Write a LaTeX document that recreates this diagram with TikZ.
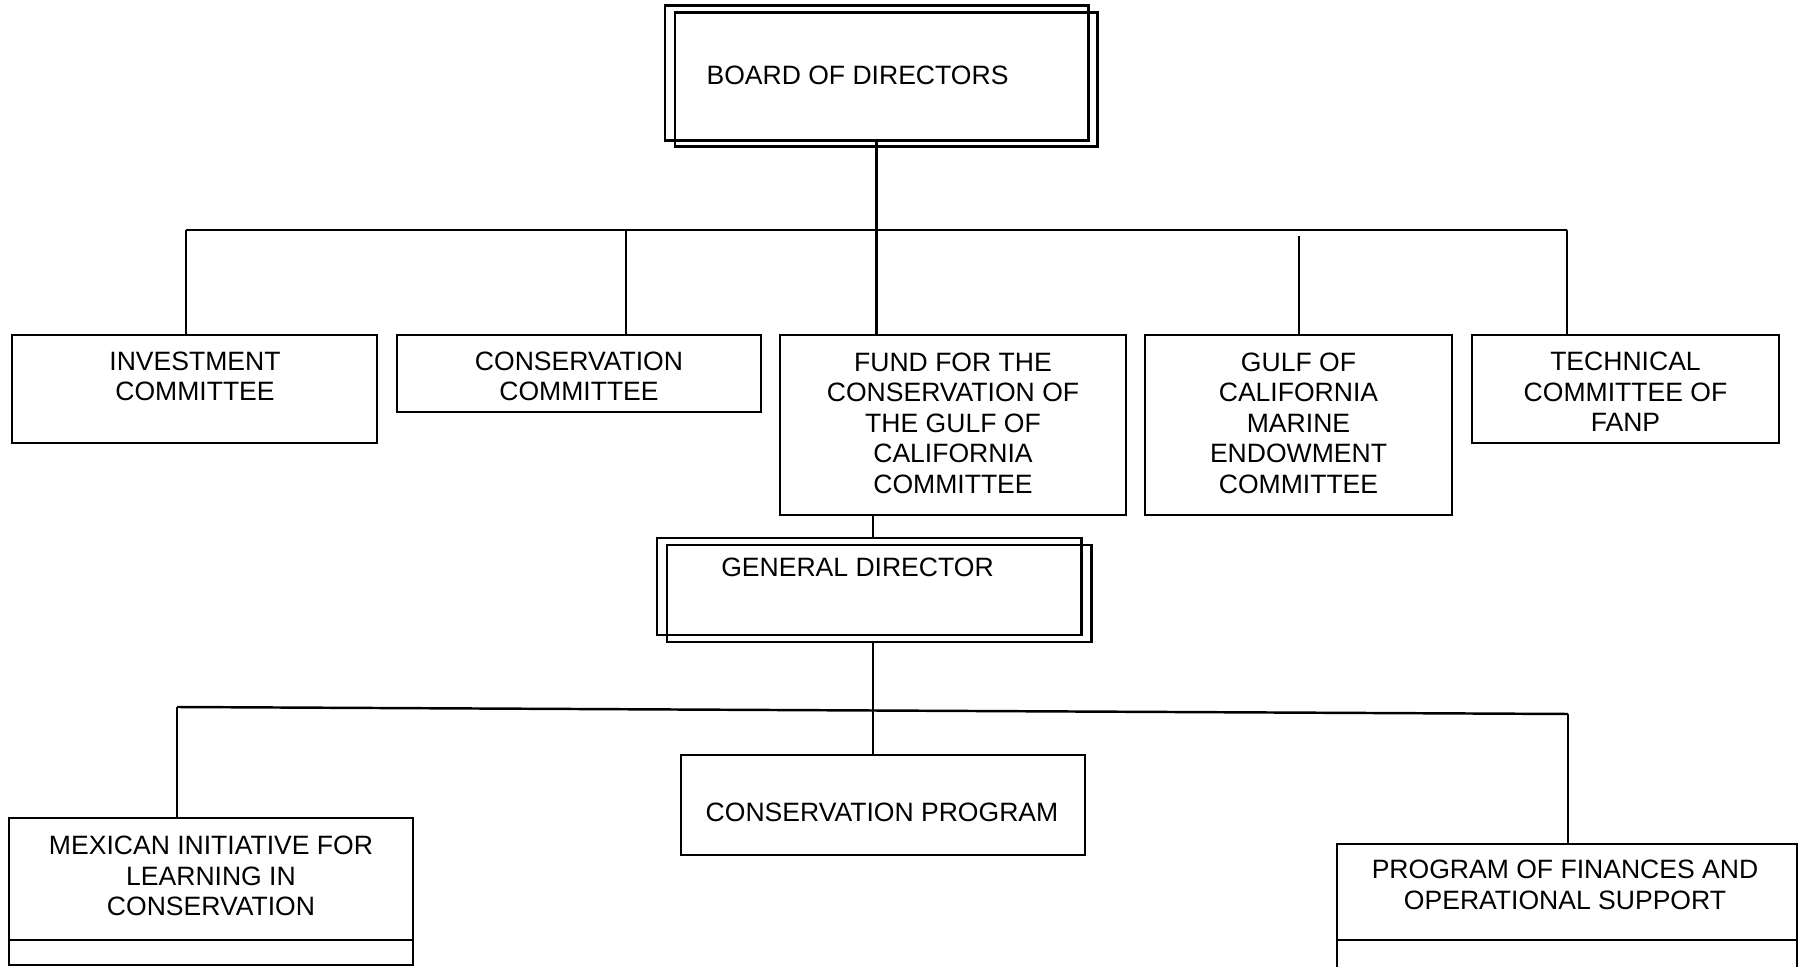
\documentclass[tikz,border=0pt]{standalone}
\usepackage{fontspec}
\setmainfont{Liberation Sans}
\usetikzlibrary{fit}
\tikzset{%
	box/.style={
		draw,
		line width=0.7pt,
		inner sep=0pt
	},
	dbox/.style={
		box,
		line width=0.85pt
	},
	txt/.style={
		align=center,
		inner sep=0pt,
		font=\fontsize{7.55pt}{8.68pt}\selectfont
	},
	link/.style={line width=0.7pt},
}
\begin{document}
\begin{tikzpicture}[x=0.01cm, y=-0.01cm]
			\useasboundingbox (0,0) rectangle (1808,967);
			
			% Board of directors, two shifted frames
			\node[dbox, fit={(665,6) (1088,141)}] (board) {};
			\node[dbox, fit={(675,13) (1097,147)}] (board2) {};
			\node[txt] (boardT) at (857.5,75) {BOARD OF DIRECTORS};
			
			% Committees
			\node[box, fit={(12,335) (377,443)}] (inv) {};
			\node[txt] (invT) at (195,376.5) {INVESTMENT\\COMMITTEE};
			\node[box, fit={(397,335) (761,412)}] (ccom) {};
			\node[txt] (ccomT) at (579,376.5) {CONSERVATION\\COMMITTEE};
			\node[box, fit={(780,335) (1126,515)}] (fund) {};
			\node[txt] (fundT) at (953,423) {FUND FOR THE\\CONSERVATION OF\\THE GULF OF\\CALIFORNIA\\COMMITTEE};
			\node[box, fit={(1145,335) (1452,515)}] (gulf) {};
			\node[txt] (gulfT) at (1298.5,423) {GULF OF\\CALIFORNIA\\MARINE\\ENDOWMENT\\COMMITTEE};
			\node[box, fit={(1472,335) (1779,443)}] (tech) {};
			\node[txt] (techT) at (1625.5,392) {TECHNICAL\\COMMITTEE OF\\FANP};
			
			% General director, two shifted frames
			\node[dbox, fit={(657,538) (1081,635)}] (gd) {};
			\node[dbox, fit={(667,545) (1091,642)}] (gd2) {};
			\node[txt] (gdT) at (857.5,567) {GENERAL DIRECTOR};
			
			% Programs
			\node[box, fit={(681,755) (1085,855)}] (cprog) {};
			\node[txt] (cprogT) at (882,812.5) {CONSERVATION PROGRAM};
			\node[box, fit={(9,818) (413,965)}] (mex) {};
			\node[txt] (mexT) at (211,876) {MEXICAN INITIATIVE FOR\\LEARNING IN\\CONSERVATION};
			\node[box, fit={(1337,844) (1797,990)}] (fin) {};
			\node[txt] (finT) at (1565,885) {PROGRAM OF FINANCES AND\\OPERATIONAL SUPPORT};
			
			% Split lines in the lower boxes
			\coordinate (cut) at (0,940);
			\draw[link] (mex.west |- cut) -- (mex.east |- cut);
			\draw[link] (fin.west |- cut) -- (fin.east |- cut);
			
			% Board to committees
			\coordinate (busL) at (186,230);
			\coordinate (busC) at (626,230);
			\coordinate (busR) at (1567,230);
			\coordinate (gulfTop) at (1299,236);
			\draw[link] (busL) -- (busR);
			\draw[link] (board.south) -- (board.south |- fund.north);
			\draw[link] (busL) -- (busL |- inv.north);
			\draw[link] (busC) -- (busC |- ccom.north);
			\draw[link] (gulfTop) -- (gulfTop |- gulf.north);
			\draw[link] (busR) -- (busR |- tech.north);
			
			% Fund committee to general director to programs
			\coordinate (spine) at (873,0);
			\draw[link] (spine |- fund.south) -- (spine |- gd.north);
			\draw[link] (spine |- gd2.south) -- (spine |- cprog.north);
			\coordinate (lbusL) at (177,707);
			\coordinate (lbusR) at (1568,714);
			\draw[link] (lbusL) -- (lbusR);
			\draw[link] (lbusL) -- (lbusL |- mex.north);
			\draw[link] (lbusR) -- (lbusR |- fin.north);
			
		\end{tikzpicture}
\end{document}
